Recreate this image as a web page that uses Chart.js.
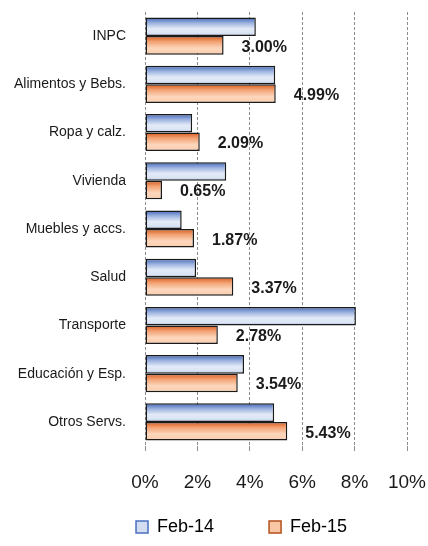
<!DOCTYPE html>
<html>
<head>
<meta charset="utf-8">
<script src="https://cdn.jsdelivr.net/npm/chart.js@4"></script>
<style>
  html, body { margin: 0; padding: 0; background: #fff; }
  #wrap { width: 428px; height: 546px; }
</style>
</head>
<body>
<div id="wrap"><canvas id="chart"></canvas></div>
<script>
// categories and series
const categories = ["INPC", "Alimentos y Bebs.", "Ropa y calz.", "Vivienda", "Muebles y accs.", "Salud", "Transporte", "Educación y Esp.", "Otros Servs."];
const feb14 = [4.23, 4.97, 1.80, 3.10, 1.40, 1.95, 8.05, 3.78, 4.93];
const feb15 = [3.00, 4.99, 2.09, 0.65, 1.87, 3.37, 2.78, 3.54, 5.43];
const xTicks = [0, 2, 4, 6, 8, 10];

const FONT = '"Liberation Sans", Arial, sans-serif';
const CAT_PCT = 0.77;

// vertical gradient across each bar's thickness
const blueStops = [[0, '#3f66b8'], [0.3, '#9db3df'], [0.6, '#e3eaf7'], [0.85, '#dbe4f4'], [1, '#9fb4de']];
const orangeStops = [[0, '#d9571a'], [0.3, '#f2a273'], [0.65, '#fcd6bc'], [0.9, '#fbd0b2'], [1, '#f0a77a']];

function barFill(stops, slot, solid) {
  return function(ctx) {
    const chart = ctx.chart;
    const ys = chart.scales && chart.scales.y;
    if (ctx.type !== 'data' || !ys || !ys.height) return solid;
    const cat = ys.height / categories.length;
    const thick = cat * CAT_PCT / 2;
    const center = ys.getPixelForValue(ctx.dataIndex);
    const top = center - thick + slot * thick;
    const g = chart.ctx.createLinearGradient(0, top, 0, top + thick);
    stops.forEach(s => g.addColorStop(s[0], s[1]));
    return g;
  };
}

// labels for Feb-15 bars
const valueLabels = {
  id: 'valueLabels',
  afterDatasetsDraw(chart) {
    const ctx = chart.ctx;
    const meta = chart.getDatasetMeta(1);
    ctx.save();
    ctx.font = 'bold 16px ' + FONT;
    ctx.fillStyle = '#1a1a1a';
    ctx.textAlign = 'left';
    ctx.textBaseline = 'middle';
    meta.data.forEach((bar, i) => {
      ctx.fillText(feb15[i].toFixed(2) + '%', bar.x + 18, bar.y + 2);
    });
    ctx.restore();
  }
};

new Chart(document.getElementById('chart'), {
  type: 'bar',
  data: {
    labels: categories,
    datasets: [
      {
        label: 'Feb-14',
        data: feb14,
        backgroundColor: barFill(blueStops, 0, '#c9d6ee'),
        borderColor: '#1a1a1a',
        borderWidth: 1.5,
        borderSkipped: false,
        categoryPercentage: CAT_PCT,
        barPercentage: 1
      },
      {
        label: 'Feb-15',
        data: feb15,
        backgroundColor: barFill(orangeStops, 1, '#fbd0b2'),
        borderColor: '#1a1a1a',
        borderWidth: 1.5,
        borderSkipped: false,
        categoryPercentage: CAT_PCT,
        barPercentage: 1
      }
    ]
  },
  options: {
    indexAxis: 'y',
    responsive: true,
    maintainAspectRatio: false,
    animation: false,
    layout: { padding: { top: 12, right: 21, left: 0, bottom: 0 } },
    plugins: {
      tooltip: { enabled: false },
      legend: {
        position: 'bottom',
        align: 'start',
        labels: {
          font: { family: FONT, size: 18 },
          color: '#1a1a1a',
          boxWidth: 12,
          boxHeight: 12,
          padding: 10,
          generateLabels: function(chart) {
            const fills = ['#d3ddf1', '#f9c7a6'];
            const strokes = ['#4a6fc0', '#b4501c'];
            // blank first entry pushes the real entries to the right
            const items = [{
              text: ' '.repeat(19),
              fillStyle: 'rgba(0,0,0,0)',
              strokeStyle: 'rgba(0,0,0,0)',
              lineWidth: 0,
              hidden: false
            }];
            chart.data.datasets.forEach((ds, i) => {
              items.push({
                text: ds.label + (i === 0 ? ' '.repeat(9) : ''),
                fillStyle: fills[i],
                strokeStyle: strokes[i],
                lineWidth: 1.5,
                datasetIndex: i,
                hidden: false
              });
            });
            return items;
          }
        }
      }
    },
    scales: {
      x: {
        min: 0,
        max: 10,
        afterBuildTicks: function(scale) {
          scale.ticks = xTicks.map(v => ({ value: v }));
        },
        afterFit: function(scale) {
          scale.height = 62;
          scale.paddingLeft = 0;
          scale.paddingRight = 0;
        },
        grid: {
          color: '#8c8c8c',
          lineWidth: 1,
          tickLength: 5,
          drawTicks: true
        },
        border: { display: false, dash: [3, 2] },
        ticks: {
          padding: 20,
          color: '#1a1a1a',
          font: { family: FONT, size: 19 },
          callback: v => v + '%'
        }
      },
      y: {
        grid: { display: false, drawTicks: false },
        border: { display: false },
        afterFit: function(scale) {
          scale.width = 145;
          scale.paddingTop = 0;
          scale.paddingBottom = 0;
        },
        ticks: {
          padding: 19,
          color: '#1a1a1a',
          font: { family: FONT, size: 14 }
        }
      }
    }
  },
  plugins: [valueLabels]
});
</script>
</body>
</html>
